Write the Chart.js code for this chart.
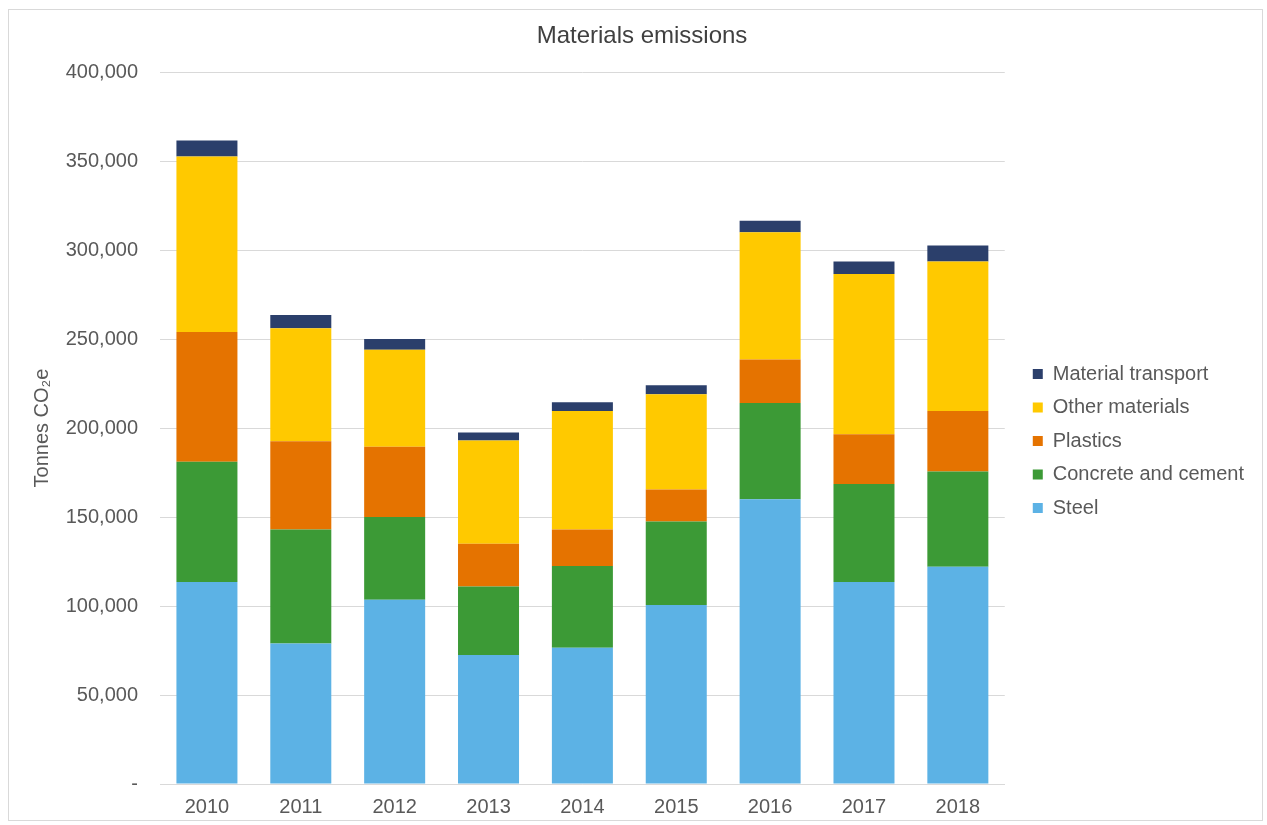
<!DOCTYPE html>
<html>
<head>
<meta charset="utf-8">
<script src="https://cdn.jsdelivr.net/npm/chart.js@4"></script>
<style>
  html, body { margin: 0; padding: 0; background: #fff; }
  #wrap { position: absolute; left: 8px; top: 9px; width: 1255px; height: 812px; border: 1px solid #d9d9d9; box-sizing: border-box; }
  #chart { position: absolute; left: 0; top: 0; }
</style>
</head>
<body>
<div id="wrap"></div>
<canvas id="chart" width="1267" height="825"></canvas>
<script>
// Materials emissions, tonnes CO2e
var years = ['2010', '2011', '2012', '2013', '2014', '2015', '2016', '2017', '2018'];
var steel = [113500, 79000, 103500, 72500, 76500, 100500, 160000, 113500, 122000];
var concrete = [67500, 64000, 46500, 38500, 46000, 47000, 54000, 55000, 53500];
var plastics = [73000, 49500, 39500, 24000, 20500, 18000, 24500, 28000, 34000];
var otherMaterials = [98500, 63500, 54500, 58000, 66500, 53500, 71500, 90000, 84000];
var transport = [9000, 7500, 6000, 4500, 5000, 5000, 6500, 7000, 9000];

var grey = '#595959';
var font = 'Liberation Sans, Arial, sans-serif';

var ctx = document.getElementById('chart').getContext('2d');
var chart = new Chart(ctx, {
	type: 'bar',
	data: {
		labels: years,
		datasets: [
			{ label: 'Steel', data: steel, backgroundColor: '#5cb2e5' },
			{ label: 'Concrete and cement', data: concrete, backgroundColor: '#3c9a36' },
			{ label: 'Plastics', data: plastics, backgroundColor: '#e57300' },
			{ label: 'Other materials', data: otherMaterials, backgroundColor: '#ffc900' },
			{ label: 'Material transport', data: transport, backgroundColor: '#2b3f6b' }
		]
	},
	options: {
		responsive: false,
		animation: false,
		categoryPercentage: 1,
		barPercentage: 0.65,
		layout: { padding: { left: 30, right: 13, top: 18, bottom: 0 } },
		plugins: {
			title: {
				display: true,
				text: 'Materials emissions',
				color: '#404040',
				font: { family: font, size: 24, weight: 'normal' },
				padding: { top: 3.6, bottom: 21.6 }
			},
			legend: {
				position: 'right',
				reverse: true,
				maxWidth: 300,
				title: { display: true, text: '', font: { size: 12 }, padding: { top: 24.6, bottom: 0 } },
				labels: {
					color: grey,
					font: { family: font, size: 20 },
					boxWidth: 10,
					boxHeight: 10,
					padding: 13.5
				}
			},
			tooltip: { enabled: false }
		},
		scales: {
			x: {
				stacked: true,
				afterFit: function(scale) { scale.height = 41; },
				grid: { display: false, drawTicks: false },
				border: { color: '#d9d9d9' },
				ticks: { color: grey, font: { family: font, size: 20 }, padding: 11 }
			},
			y: {
				stacked: true,
				min: 0,
				max: 400000,
				afterFit: function(scale) { scale.width = 130; },
				grid: { color: '#d9d9d9', drawTicks: false },
				border: { display: false },
				title: {
					display: true,
					text: 'Tonnes CO\u2082e',
					color: grey,
					font: { family: font, size: 20 },
					padding: 0
				},
				ticks: {
					stepSize: 50000,
					color: grey,
					font: { family: font, size: 20 },
					padding: 22,
					callback: function(v) { return v === 0 ? '-' : v.toLocaleString('en-US'); }
				}
			},
			// empty right-hand spacer so the legend sits a little away from the bars
			spacer: {
				type: 'linear',
				position: 'right',
				afterFit: function(scale) { scale.width = 14.5; },
				grid: { display: false, drawTicks: false },
				border: { display: false },
				ticks: { display: false }
			}
		}
	}
});
</script>
</body>
</html>
